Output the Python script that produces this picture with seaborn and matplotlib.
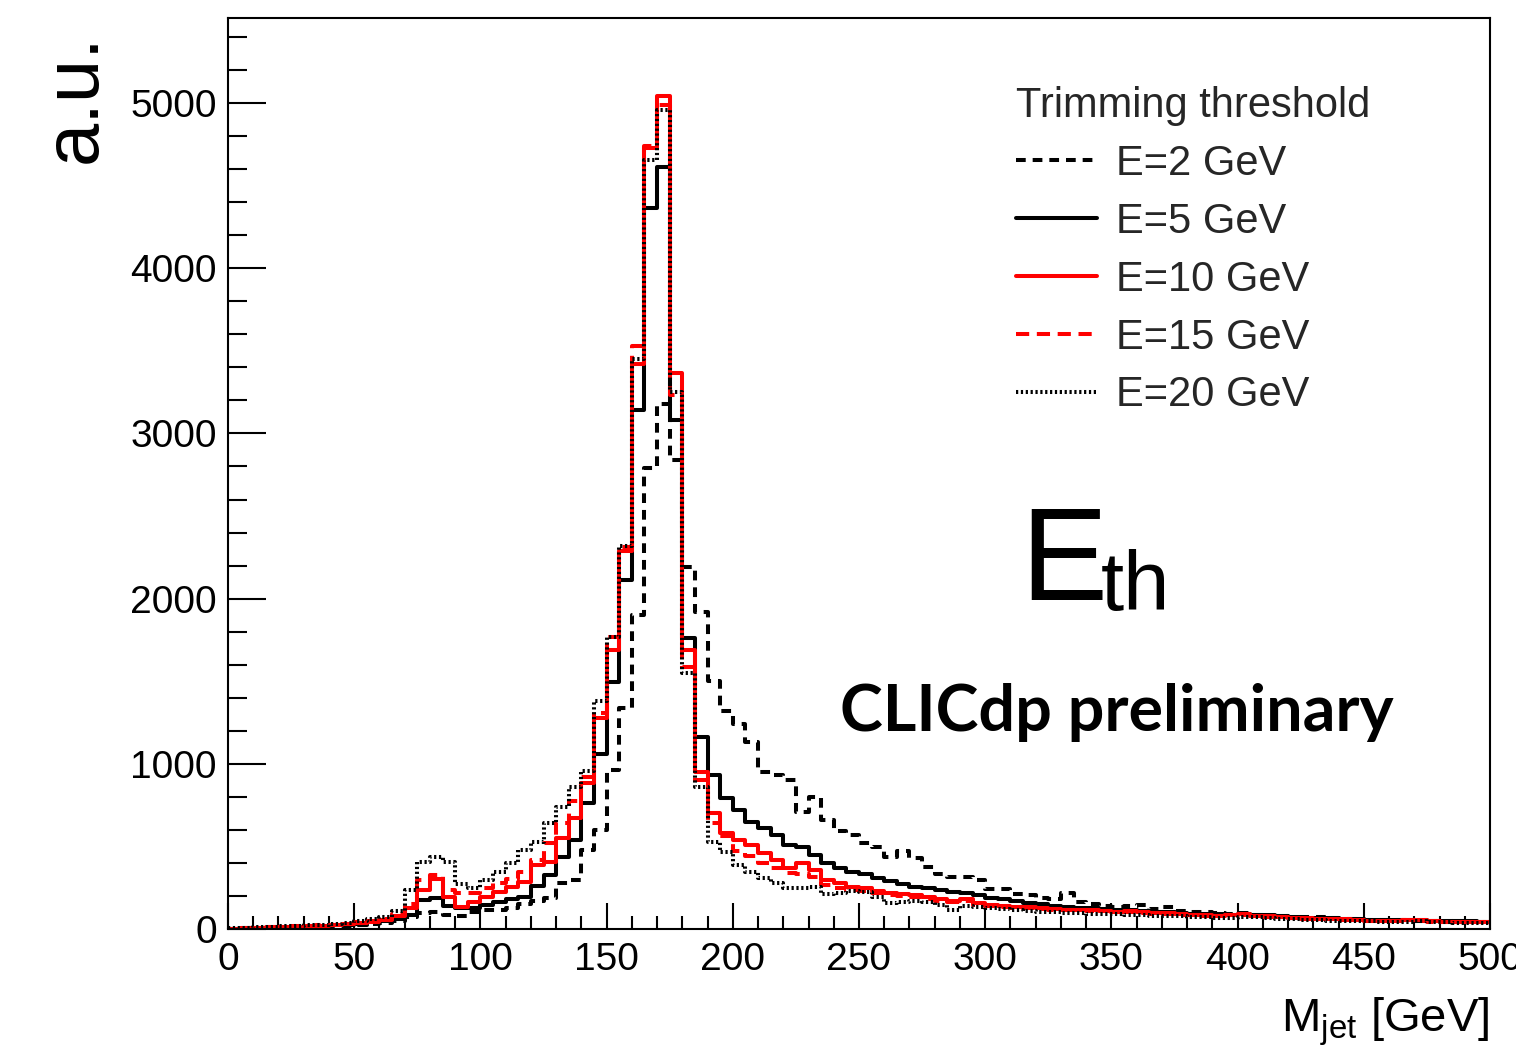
import numpy as np
import pandas as pd
import matplotlib
matplotlib.use("Agg")
import matplotlib.pyplot as plt
import seaborn as sns
from matplotlib.ticker import MultipleLocator

# ---------------- data ----------------
bin_width = 5
mjet_edges = [float(e) for e in np.arange(0, 500 + bin_width, bin_width)]
mjet_centers = np.asarray(mjet_edges[:-1]) + bin_width / 2

counts_E2 = [
    2, 4, 5, 7, 9, 11, 12, 15, 17, 20,
    25, 30, 38, 48, 70, 95, 105, 85, 79, 100,
    115, 115, 125, 150, 170, 190, 276, 297, 480, 600,
    960, 1340, 1900, 2790, 3180, 2840, 2190, 1920, 1500, 1320,
    1240, 1130, 950, 930, 900, 710, 800, 660, 595, 570,
    520, 495, 435, 475, 430, 375, 330, 315, 315, 295,
    245, 245, 210, 205, 185, 180, 215, 165, 150, 140,
    132, 140, 145, 120, 132, 108, 100, 104, 95, 90,
    98, 86, 80, 78, 66, 70, 72, 64, 62, 60,
    55, 56, 52, 56, 48, 50, 45, 48, 44, 42,
]
counts_E5 = [
    3, 5, 7, 9, 12, 14, 16, 18, 22, 27,
    33, 40, 48, 62, 85, 176, 186, 139, 125, 125,
    145, 165, 180, 196, 260, 327, 438, 540, 761, 1058,
    1497, 2113, 3141, 4364, 4610, 3081, 1764, 1164, 932, 791,
    720, 650, 609, 569, 508, 498, 448, 400, 370, 345,
    330, 310, 290, 270, 255, 248, 235, 222, 215, 205,
    190, 180, 170, 160, 150, 142, 135, 130, 125, 120,
    115, 112, 108, 104, 100, 96, 92, 90, 88, 86,
    88, 86, 82, 78, 72, 68, 66, 64, 62, 60,
    56, 52, 52, 54, 52, 50, 48, 46, 46, 44,
]
counts_E10 = [
    3, 6, 8, 10, 13, 15, 18, 20, 24, 30,
    36, 44, 56, 78, 125, 236, 300, 196, 135, 165,
    196, 226, 256, 286, 387, 407, 549, 670, 882, 1275,
    1689, 2290, 3420, 4730, 5043, 3363, 1689, 952, 700, 579,
    539, 508, 458, 418, 367, 399, 357, 297, 276, 256,
    246, 232, 220, 212, 206, 192, 180, 171, 180, 155,
    145, 139, 135, 132, 128, 122, 118, 116, 112, 110,
    104, 106, 100, 96, 94, 88, 84, 82, 80, 86,
    88, 80, 76, 74, 66, 64, 62, 60, 58, 56,
    48, 46, 50, 56, 52, 46, 44, 42, 44, 42,
]
counts_E15 = [
    3, 6, 9, 11, 14, 17, 20, 23, 27, 33,
    40, 50, 62, 90, 150, 297, 327, 236, 216, 216,
    246, 276, 303, 347, 420, 519, 640, 775, 920, 1310,
    1770, 2310, 3530, 4740, 4990, 3230, 1588, 905, 640, 560,
    470, 440, 400, 370, 340, 335, 317, 265, 250, 236,
    228, 215, 206, 200, 195, 182, 172, 165, 168, 148,
    140, 135, 130, 128, 124, 118, 115, 112, 108, 106,
    100, 102, 96, 92, 90, 85, 82, 80, 78, 82,
    84, 78, 74, 72, 64, 62, 60, 58, 56, 54,
    48, 46, 48, 52, 50, 45, 43, 41, 42, 40,
]
counts_E20 = [
    4, 7, 10, 13, 16, 19, 22, 26, 30, 38,
    46, 58, 75, 110, 236, 407, 434, 407, 270, 246,
    297, 347, 397, 478, 528, 640, 740, 860, 955, 1380,
    1770, 2320, 3450, 4658, 4960, 3250, 1548, 861, 528, 468,
    387, 347, 307, 276, 250, 246, 256, 212, 220, 232,
    225, 196, 159, 165, 171, 165, 145, 115, 140, 135,
    125, 122, 115, 110, 105, 100, 98, 95, 92, 90,
    88, 85, 82, 80, 78, 76, 72, 70, 68, 66,
    70, 72, 68, 62, 58, 52, 52, 50, 50, 48,
    46, 42, 40, 44, 46, 42, 40, 38, 38, 36,
]

series_labels = ["E=2 GeV", "E=5 GeV", "E=10 GeV", "E=15 GeV", "E=20 GeV"]
series_counts = [counts_E2, counts_E5, counts_E10, counts_E15, counts_E20]
legend_title = "Trimming threshold"

# ---------------- styling ----------------
series_colors = ["black", "black", "#ff0000", "#ff0000", "black"]
series_styles = [(0, (7.0, 5.0)), "solid", "solid", (0, (9.5, 5.5)), (0, (1.6, 1.9))]

sns.set_theme(style="white")
plt.rcParams["font.family"] = ["Liberation Sans", "DejaVu Sans"]
plt.rcParams["mathtext.fontset"] = "custom"
plt.rcParams["mathtext.rm"] = "Liberation Sans"
plt.rcParams["mathtext.it"] = "Liberation Sans:italic"
plt.rcParams["mathtext.bf"] = "Liberation Sans:bold"
plt.rcParams["lines.scale_dashes"] = False

W, H = 1516, 1049
fig = plt.figure(figsize=(W / 100, H / 100), dpi=100)
x0, x1, ytop, ybot = 228, 1490, 18, 929
ax = fig.add_axes([x0 / W, (H - ybot) / H, (x1 - x0) / W, (ybot - ytop) / H])

df = pd.DataFrame({
    "M": np.tile(mjet_centers, len(series_labels)),
    "w": np.concatenate([np.asarray(c, float) for c in series_counts]),
    "series": np.repeat(series_labels, len(mjet_centers)),
})

for lab, col, ls in zip(series_labels, series_colors, series_styles):
    sub = df[df["series"] == lab]
    sns.histplot(data=sub, x="M", weights="w", bins=mjet_edges, element="step",
                 fill=False, color=col, linestyle=ls, linewidth=2.9, ax=ax)

ax.set_xlim(0, 500)
ax.set_ylim(0, 5515)

ax.xaxis.set_major_locator(MultipleLocator(50))
ax.xaxis.set_minor_locator(MultipleLocator(10))
ax.yaxis.set_major_locator(MultipleLocator(1000))
ax.yaxis.set_minor_locator(MultipleLocator(200))
ax.tick_params(which="both", direction="in", top=False, right=False,
               bottom=True, left=True, width=1.5, color="black",
               labelsize=28, labelcolor="black")
ax.tick_params(axis="x", which="major", length=19, pad=9)
ax.tick_params(axis="x", which="minor", length=9.5)
ax.tick_params(axis="y", which="major", length=27, pad=8)
ax.tick_params(axis="y", which="minor", length=13.5)
for s in ax.spines.values():
    s.set_visible(True)
    s.set_color("black")
    s.set_linewidth(1.5)
ax.grid(False)

ax.set_xlabel(r"M$_{\mathrm{jet}}$ [GeV]", fontsize=34, color="black")
ax.xaxis.set_label_coords(1.0, -0.073)
ax.xaxis.label.set_ha("right")
ax.xaxis.label.set_va("top")

ax.set_ylabel("a.u.", fontsize=56, color="black")
ax.yaxis.set_label_coords(-0.121, 0.983)
ax.yaxis.label.set_ha("right")
ax.yaxis.label.set_va("center")

handles = ax.lines[:len(series_labels)]
leg = ax.legend(handles, series_labels, title=legend_title, loc="upper left",
                bbox_to_anchor=(0.6245, 0.9255), frameon=False, fontsize=30,
                title_fontsize=30, handlelength=1.95, handletextpad=0.45,
                labelspacing=0.43, borderpad=0.0, borderaxespad=0.0,
                alignment="left")

ax.text(0.6276, 0.3611, "E", fontsize=94, transform=ax.transAxes,
        ha="left", va="baseline", color="black")
ax.text(0.6918, 0.3502, "th", fontsize=60, transform=ax.transAxes,
        ha="left", va="baseline", color="black")
ax.text(0.485, 0.2173, "CLICdp preliminary", fontsize=46.5, fontweight="bold",
        family=["Lato", "DejaVu Sans"], transform=ax.transAxes,
        ha="left", va="baseline", color="black")

fig.savefig("out.png", dpi=100)
